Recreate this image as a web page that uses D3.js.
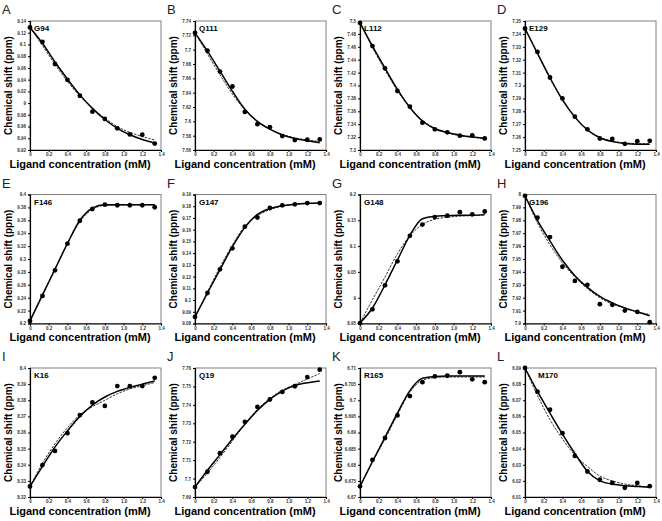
<!DOCTYPE html>
<html><head><meta charset="utf-8">
<script src="https://cdn.jsdelivr.net/npm/d3@7"></script>
<style>body{margin:0;background:#fff}svg{display:block}</style>
</head><body>
<svg id="c" width="662" height="521"></svg>
<script>
// ---- data ----
const panelLetters = ["A","B","C","D","E","F","G","H","I","J","K","L"];
const residues = ["G94","Q111","L112","E129","F146","G147","G148","G196","K16","Q19","R165","M170"];
const ligandConc = [0, 0.133, 0.267, 0.4, 0.533, 0.667, 0.8, 0.933, 1.067, 1.2, 1.333];
const xTicks = [0, 0.2, 0.4, 0.6, 0.8, 1.0, 1.2, 1.4];
const xTickLabels = ["0","0.2","0.4","0.6","0.8","1.0","1.2","1.4"];

const obsG94  = [9.129, 9.1045, 9.0667, 9.0396, 9.0125, 8.9854, 8.973, 8.957, 8.9465, 8.946, 8.931];
const fitG94  = [9.129, 9.102, 9.070, 9.041, 9.014, 8.991, 8.972, 8.957, 8.946, 8.938, 8.932];
const fit2G94 = [9.129, 9.098, 9.066, 9.037, 9.012, 8.991, 8.974, 8.960, 8.950, 8.943, 8.937];

const obsQ111  = [7.7234, 7.6985, 7.6694, 7.6486, 7.6131, 7.596, 7.5919, 7.5794, 7.5738, 7.5743, 7.5748];
const fitQ111  = [7.7234, 7.698, 7.670, 7.642, 7.617, 7.600, 7.589, 7.581, 7.576, 7.573, 7.570];
const fit2Q111 = [7.7234, 7.694, 7.665, 7.638, 7.616, 7.600, 7.589, 7.582, 7.577, 7.574, 7.572];

const obsL112  = [7.497, 7.4612, 7.4266, 7.3915, 7.3672, 7.3424, 7.332, 7.3274, 7.3222, 7.3227, 7.318];
const fitL112  = [7.497, 7.461, 7.427, 7.394, 7.366, 7.345, 7.333, 7.327, 7.323, 7.320, 7.318];
const fit2L112 = [7.497, 7.459, 7.424, 7.392, 7.366, 7.346, 7.334, 7.327, 7.322, 7.320, 7.318];

const obsE129  = [7.3442, 7.326, 7.3062, 7.29, 7.2758, 7.266, 7.2589, 7.2586, 7.2548, 7.2568, 7.2571];
const fitE129  = [7.3442, 7.325, 7.306, 7.289, 7.2755, 7.2655, 7.2595, 7.2565, 7.255, 7.2545, 7.2545];
const fit2E129 = [7.3442, 7.3245, 7.3055, 7.2885, 7.2755, 7.266, 7.260, 7.257, 7.2555, 7.255, 7.2548];

const obsF146  = [9.204, 9.2428, 9.2825, 9.3238, 9.3593, 9.3775, 9.3843, 9.3833, 9.3833, 9.3833, 9.3802];
const fitF146  = [9.204, 9.244, 9.284, 9.324, 9.360, 9.379, 9.384, 9.384, 9.384, 9.384, 9.384];
const fit2F146 = [9.204, 9.245, 9.285, 9.324, 9.358, 9.377, 9.383, 9.3835, 9.384, 9.384, 9.384];

const obsG147  = [9.0856, 9.106, 9.1262, 9.1441, 9.1626, 9.1704, 9.1785, 9.1808, 9.1816, 9.1827, 9.1827];
const fitG147  = [9.0856, 9.106, 9.126, 9.1455, 9.162, 9.173, 9.178, 9.1805, 9.1818, 9.1825, 9.1828];
const fit2G147 = [9.0856, 9.107, 9.128, 9.147, 9.163, 9.172, 9.177, 9.180, 9.1815, 9.1822, 9.1826];

const obsG148  = [8.9507, 8.9774, 9.024, 9.0705, 9.1199, 9.1418, 9.1562, 9.1589, 9.1658, 9.1616, 9.1671];
const fitG148  = [8.951, 8.980, 9.025, 9.073, 9.121, 9.153, 9.158, 9.159, 9.160, 9.160, 9.161];
const fit2G148 = [8.951, 8.996, 9.040, 9.085, 9.120, 9.142, 9.152, 9.156, 9.158, 9.159, 9.160];

const obsG196  = [7.999, 7.982, 7.967, 7.944, 7.933, 7.930, 7.915, 7.9145, 7.910, 7.909, 7.901];
const fitG196  = [7.999, 7.980, 7.964, 7.949, 7.937, 7.928, 7.921, 7.916, 7.912, 7.909, 7.906];
const fit2G196 = [7.999, 7.978, 7.961, 7.947, 7.936, 7.927, 7.920, 7.915, 7.912, 7.909, 7.907];

const obsK16  = [8.3265, 8.3398, 8.3486, 8.3596, 8.3708, 8.3786, 8.3765, 8.3888, 8.3888, 8.3888, 8.3939];
const fitK16  = [8.3265, 8.339, 8.351, 8.361, 8.370, 8.377, 8.382, 8.3855, 8.388, 8.390, 8.392];
const fit2K16 = [8.3265, 8.341, 8.353, 8.363, 8.371, 8.376, 8.380, 8.384, 8.387, 8.389, 8.391];

const obsQ19  = [7.6954, 7.7037, 7.7138, 7.7227, 7.7308, 7.7389, 7.7429, 7.747, 7.7501, 7.7551, 7.7591];
const fitQ19  = [7.6954, 7.7045, 7.713, 7.7215, 7.7295, 7.737, 7.743, 7.7475, 7.7505, 7.752, 7.753];
const fit2Q19 = [7.6954, 7.703, 7.7115, 7.7205, 7.7295, 7.7375, 7.7435, 7.748, 7.751, 7.754, 7.757];

const obsR165  = [6.6733, 6.6815, 6.6883, 6.6953, 6.7013, 6.7056, 6.7074, 6.7076, 6.7087, 6.7065, 6.7056];
const fitR165  = [6.6733, 6.681, 6.6885, 6.696, 6.703, 6.7068, 6.7074, 6.7075, 6.7075, 6.7075, 6.7075];
const fit2R165 = [6.6733, 6.6808, 6.688, 6.6955, 6.7025, 6.7062, 6.707, 6.7072, 6.7072, 6.7072, 6.7072];

const obsM170  = [6.09, 6.0753, 6.0641, 6.0496, 6.0355, 6.0258, 6.0207, 6.0187, 6.0157, 6.0187, 6.0167];
const fitM170  = [6.09, 6.0755, 6.062, 6.049, 6.037, 6.026, 6.020, 6.018, 6.017, 6.0165, 6.016];
const fit2M170 = [6.09, 6.073, 6.058, 6.046, 6.036, 6.029, 6.023, 6.020, 6.018, 6.017, 6.016];

const yTicksG94  = [8.92, 8.94, 8.96, 8.98, 9.00, 9.02, 9.04, 9.06, 9.08, 9.10, 9.12, 9.14];
const yTicksQ111 = [7.56, 7.58, 7.60, 7.62, 7.64, 7.66, 7.68, 7.70, 7.72, 7.74];
const yTicksL112 = [7.30, 7.32, 7.34, 7.36, 7.38, 7.40, 7.42, 7.44, 7.46, 7.48, 7.50];
const yTicksE129 = [7.25, 7.26, 7.27, 7.28, 7.29, 7.30, 7.31, 7.32, 7.33, 7.34, 7.35];
const yTicksF146 = [9.20, 9.22, 9.24, 9.26, 9.28, 9.30, 9.32, 9.34, 9.36, 9.38, 9.40];
const yTicksG147 = [9.08, 9.09, 9.10, 9.11, 9.12, 9.13, 9.14, 9.15, 9.16, 9.17, 9.18, 9.19];
const yTicksG148 = [8.95, 9.00, 9.05, 9.10, 9.15, 9.20];
const yTicksG196 = [7.90, 7.91, 7.92, 7.93, 7.94, 7.95, 7.96, 7.97, 7.98, 7.99, 8.00];
const yTicksK16  = [8.32, 8.33, 8.34, 8.35, 8.36, 8.37, 8.38, 8.39, 8.40];
const yTicksQ19  = [7.69, 7.70, 7.71, 7.72, 7.73, 7.74, 7.75, 7.76];
const yTicksR165 = [6.670, 6.675, 6.680, 6.685, 6.690, 6.695, 6.700, 6.705, 6.710];
const yTicksM170 = [6.01, 6.02, 6.03, 6.04, 6.05, 6.06, 6.07, 6.08, 6.09];

const observed = [obsG94, obsQ111, obsL112, obsE129, obsF146, obsG147, obsG148, obsG196, obsK16, obsQ19, obsR165, obsM170];
const fitsA = [fitG94, fitQ111, fitL112, fitE129, fitF146, fitG147, fitG148, fitG196, fitK16, fitQ19, fitR165, fitM170];
const fitsB = [fit2G94, fit2Q111, fit2L112, fit2E129, fit2F146, fit2G147, fit2G148, fit2G196, fit2K16, fit2Q19, fit2R165, fit2M170];
const yTicks = [yTicksG94, yTicksQ111, yTicksL112, yTicksE129, yTicksF146, yTicksG147, yTicksG148, yTicksG196, yTicksK16, yTicksQ19, yTicksR165, yTicksM170];

// ---- drawing ----
const svg = d3.select("#c");
const colX = [0, 165, 330, 495];
const rowY = [0, 173.5, 347];
const FONT = "'Liberation Sans', Arial, sans-serif";
const fmt = d3.format("~g");

residues.forEach((res, i) => {
  const col = i % 4, row = Math.floor(i / 4);
  const x0 = colX[col], y0 = rowY[row];
  const L = x0 + 30, T = y0 + 21, W = 131, H = 129;
  const ticks = yTicks[i];
  const x = d3.scaleLinear().domain([0, 1.4]).range([L, L + W]);
  const y = d3.scaleLinear().domain([ticks[0], ticks[ticks.length - 1]]).range([T + H, T]);
  const g = svg.append("g");

  // panel letter
  g.append("text").attr("x", x0 + 2).attr("y", y0 + 14)
    .attr("font-family", FONT).attr("font-size", 13).attr("font-weight", 300)
    .attr("fill", "#222").text(panelLetters[i]);

  // frame
  g.append("rect").attr("x", L).attr("y", T).attr("width", W).attr("height", H)
    .attr("fill", "none").attr("stroke", "#808080").attr("stroke-width", 1);

  // axes
  const ax = g.append("g").attr("transform", `translate(0,${T + H})`)
    .call(d3.axisBottom(x).tickValues(xTicks).tickSize(2).tickPadding(1)
      .tickFormat((d, k) => xTickLabels[k]));
  const ay = g.append("g").attr("transform", `translate(${L},0)`)
    .call(d3.axisLeft(y).tickValues(ticks).tickSize(2).tickPadding(2).tickFormat(fmt));
  [ax, ay].forEach(a => {
    a.select(".domain").attr("stroke", "#000").attr("stroke-width", 1.2);
    a.selectAll(".tick line").attr("stroke", "#000");
    a.selectAll(".tick text").attr("font-family", FONT).attr("font-size", 4.5)
      .attr("font-weight", "bold").attr("fill", "#333");
  });

  // fits
  const line = (arr) => d3.line().curve(d3.curveMonotoneX)
    .x((d, k) => x(ligandConc[k])).y(d => y(d))(arr);
  g.append("path").attr("d", line(fitsB[i])).attr("fill", "none")
    .attr("stroke", "#333").attr("stroke-width", 1).attr("stroke-dasharray", "2.5,1.2");
  g.append("path").attr("d", line(fitsA[i])).attr("fill", "none")
    .attr("stroke", "#000").attr("stroke-width", 1.5);

  // points
  g.selectAll("circle").data(observed[i]).join("circle")
    .attr("cx", (d, k) => x(ligandConc[k])).attr("cy", d => y(d)).attr("r", 2.4)
    .attr("fill", "#000");

  // residue label
  g.append("text").attr("x", L + (res === "M170" ? 13 : 4)).attr("y", T + 10)
    .attr("font-family", FONT).attr("font-size", 8).attr("font-weight", "bold")
    .text(res);

  // axis titles
  g.append("text").attr("x", x0 + 80).attr("y", T + H + 17.5)
    .attr("text-anchor", "middle").attr("font-family", FONT).attr("font-size", 11)
    .attr("font-weight", "bold").text("Ligand concentration (mM)");
  g.append("text").attr("transform", `translate(${x0 + 12},${T + H / 2}) rotate(-90)`)
    .attr("text-anchor", "middle").attr("font-family", FONT).attr("font-size", 10)
    .attr("font-weight", "bold").text("Chemical shift (ppm)");
});
</script>
</body></html>
